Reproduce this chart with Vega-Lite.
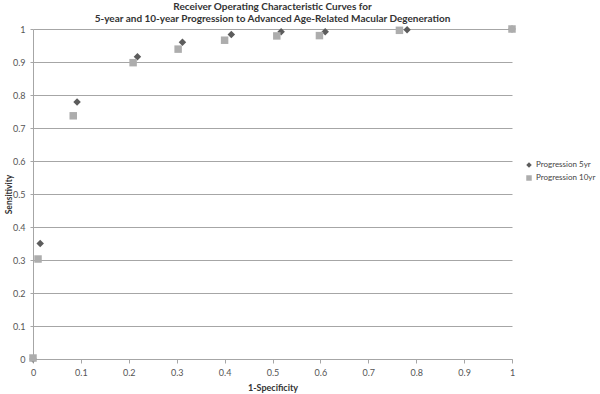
{
  "$schema": "https://vega.github.io/schema/vega-lite/v6.json",
  "autosize": "none",
  "width": 479,
  "height": 330,
  "padding": {"left": 33, "top": 29, "right": 88, "bottom": 35},
  "background": "white",
  "config": {
    "font": "Lato",
    "view": {"stroke": null}
  },
  "title": {
    "text": ["Receiver Operating Characteristic Curves for", "5-year and 10-year Progression to Advanced Age-Related Macular Degeneration"],
    "anchor": "middle",
    "frame": "group",
    "fontSize": 10,
    "fontWeight": "bold",
    "color": "#333333",
    "lineHeight": 12,
    "offset": 1
  },
  "data": {
    "values": [
      {"series": "Progression 5yr", "fpr": 0, "sens": 0},
      {"series": "Progression 5yr", "fpr": 0.015, "sens": 0.35},
      {"series": "Progression 5yr", "fpr": 0.092, "sens": 0.779},
      {"series": "Progression 5yr", "fpr": 0.218, "sens": 0.916},
      {"series": "Progression 5yr", "fpr": 0.312, "sens": 0.96},
      {"series": "Progression 5yr", "fpr": 0.414, "sens": 0.983},
      {"series": "Progression 5yr", "fpr": 0.518, "sens": 0.992},
      {"series": "Progression 5yr", "fpr": 0.61, "sens": 0.992},
      {"series": "Progression 5yr", "fpr": 0.781, "sens": 0.998},
      {"series": "Progression 5yr", "fpr": 1, "sens": 1},
      {"series": "Progression 10yr", "fpr": 0, "sens": 0.003},
      {"series": "Progression 10yr", "fpr": 0.0105, "sens": 0.303},
      {"series": "Progression 10yr", "fpr": 0.084, "sens": 0.737},
      {"series": "Progression 10yr", "fpr": 0.209, "sens": 0.898},
      {"series": "Progression 10yr", "fpr": 0.303, "sens": 0.939},
      {"series": "Progression 10yr", "fpr": 0.4, "sens": 0.966},
      {"series": "Progression 10yr", "fpr": 0.509, "sens": 0.979},
      {"series": "Progression 10yr", "fpr": 0.598, "sens": 0.98},
      {"series": "Progression 10yr", "fpr": 0.765, "sens": 0.996},
      {"series": "Progression 10yr", "fpr": 1, "sens": 1}
    ]
  },
  "mark": {"type": "point", "filled": true, "opacity": 1, "size": 56},
  "encoding": {
    "x": {
      "field": "fpr",
      "type": "quantitative",
      "scale": {"domain": [0, 1], "nice": false, "zero": true},
      "axis": {
        "title": "1-Specificity",
        "titleFontSize": 9,
        "titleFontWeight": "bold",
        "titleColor": "#333333",
        "titlePadding": 6,
        "values": [0, 0.1, 0.2, 0.3, 0.4, 0.5, 0.6, 0.7, 0.8, 0.9, 1],
        "format": "~g",
        "grid": false,
        "domainColor": "#a6a6a6",
        "tickColor": "#a6a6a6",
        "tickSize": 4,
        "labelFontSize": 9,
        "labelColor": "#555555",
        "labelPadding": 5,
        "labelFlush": false
      }
    },
    "y": {
      "field": "sens",
      "type": "quantitative",
      "scale": {"domain": [0, 1], "nice": false},
      "axis": {
        "title": "Sensitivity",
        "titleFontSize": 8.5,
        "titleFontWeight": "bold",
        "titleColor": "#333333",
        "titleX": -25,
        "titleBaseline": "middle",
        "values": [0, 0.1, 0.2, 0.3, 0.4, 0.5, 0.6, 0.7, 0.8, 0.9, 1],
        "format": "~g",
        "grid": true,
        "gridColor": "#a6a6a6",
        "gridWidth": 1,
        "domainColor": "#a6a6a6",
        "tickColor": "#a6a6a6",
        "tickSize": 3,
        "labelFontSize": 9,
        "labelColor": "#555555",
        "labelPadding": 5,
        "labelFlush": false
      }
    },
    "shape": {
      "field": "series",
      "type": "nominal",
      "scale": {"domain": ["Progression 5yr", "Progression 10yr"], "range": ["diamond", "square"]},
      "legend": {
        "title": null,
        "orient": "none",
        "legendX": 492,
        "legendY": 132,
        "padding": 0,
        "labelFontSize": 8,
        "labelColor": "#444444",
        "symbolSize": 30,
        "rowPadding": 5,
        "labelOffset": 3
      }
    },
    "color": {
      "field": "series",
      "type": "nominal",
      "scale": {"domain": ["Progression 5yr", "Progression 10yr"], "range": ["#5c5c5c", "#adadad"]},
      "legend": {
        "title": null,
        "orient": "none",
        "legendX": 492,
        "legendY": 132,
        "padding": 0,
        "labelFontSize": 8,
        "labelColor": "#444444",
        "symbolSize": 30,
        "rowPadding": 5,
        "labelOffset": 3
      }
    }
  }
}
